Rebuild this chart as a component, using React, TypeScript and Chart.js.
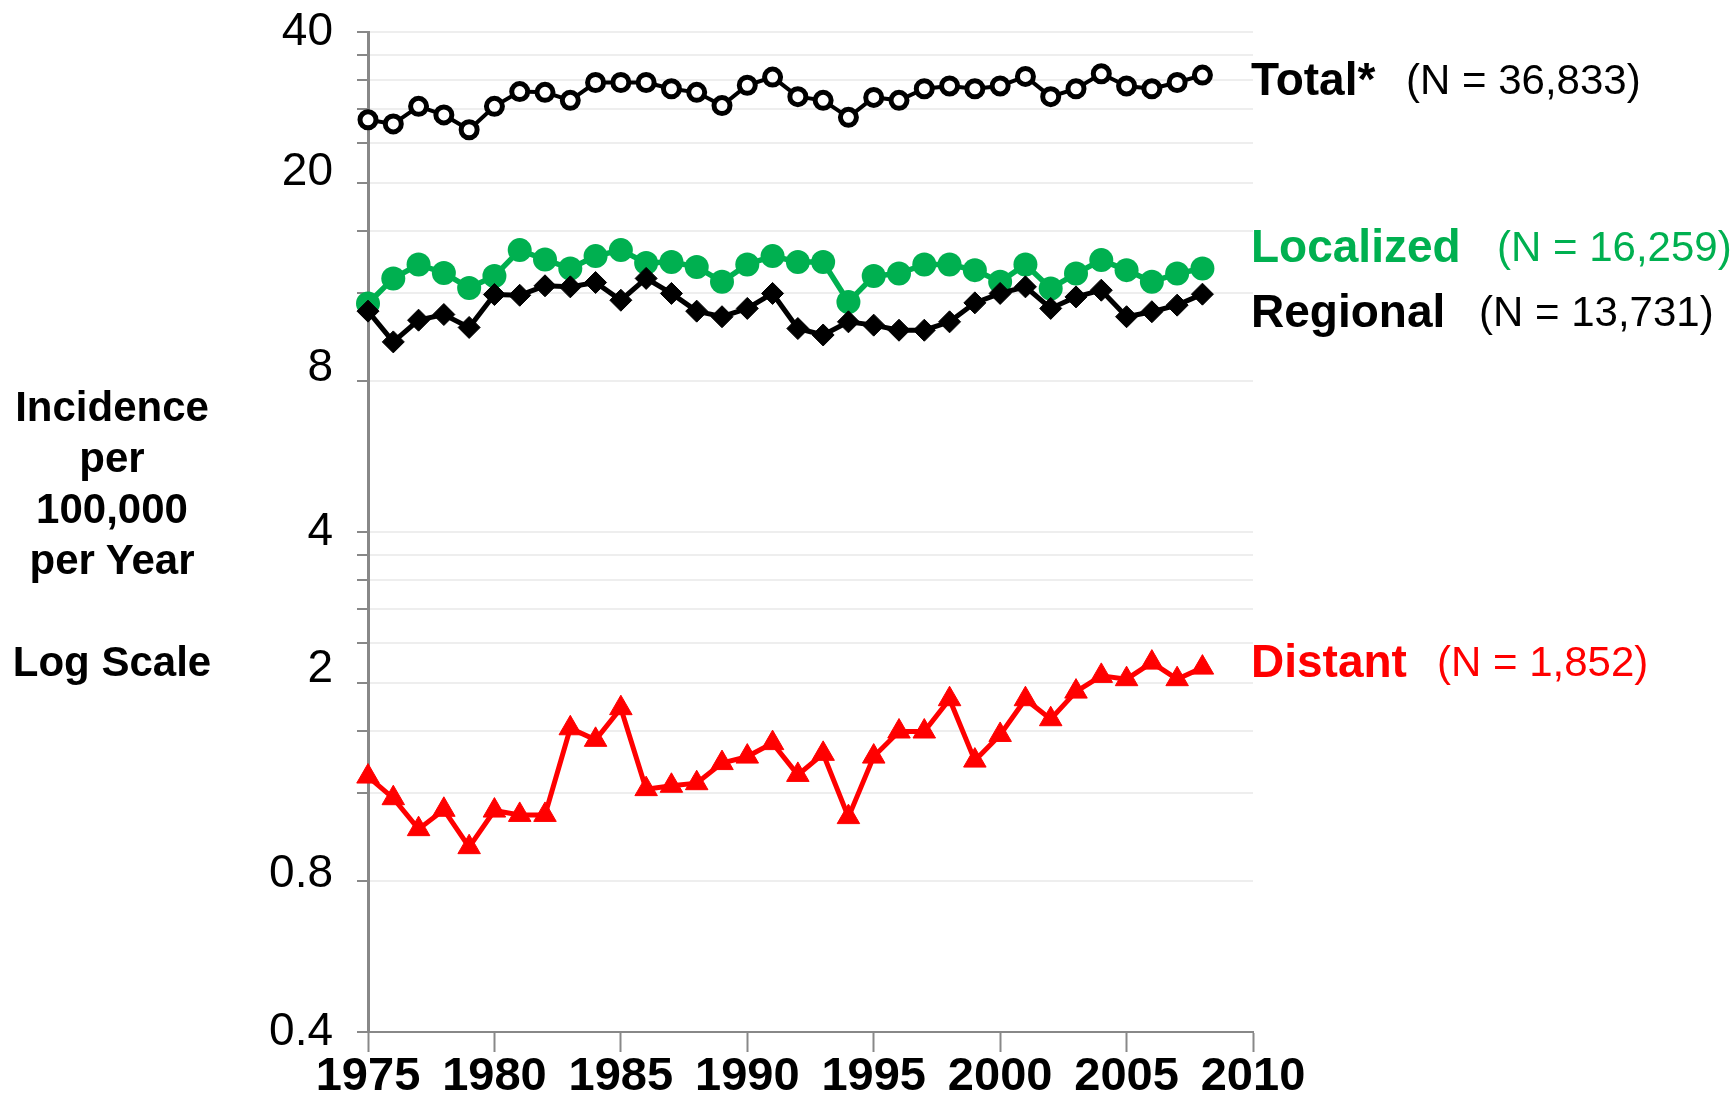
import React, { useEffect, useRef } from 'react';
import { Chart, registerables } from 'chart.js';

Chart.register(...registerables);

const YEARS = [1975, 1976, 1977, 1978, 1979, 1980, 1981, 1982, 1983, 1984, 1985, 1986, 1987, 1988, 1989, 1990, 1991, 1992, 1993, 1994, 1995, 1996, 1997, 1998, 1999, 2000, 2001, 2002, 2003, 2004, 2005, 2006, 2007, 2008];

const TOTAL = [26.7, 26.2, 28.4, 27.3, 25.5, 28.4, 30.4, 30.3, 29.2, 31.7, 31.7, 31.7, 30.8, 30.3, 28.5, 31.3, 32.5, 29.7, 29.2, 27.0, 29.6, 29.2, 30.8, 31.2, 30.8, 31.2, 32.6, 29.7, 30.8, 33.0, 31.2, 30.8, 31.7, 32.8];

const LOCALIZED = [11.46, 12.86, 13.71, 13.19, 12.31, 13.0, 14.65, 14.03, 13.46, 14.25, 14.65, 13.81, 13.87, 13.56, 12.66, 13.71, 14.25, 13.87, 13.87, 11.54, 13.0, 13.15, 13.71, 13.71, 13.36, 12.66, 13.71, 12.28, 13.15, 13.99, 13.36, 12.66, 13.15, 13.46];

const REGIONAL = [11.06, 9.6, 10.61, 10.89, 10.26, 11.94, 11.9, 12.43, 12.37, 12.62, 11.63, 12.86, 12.0, 11.06, 10.78, 11.2, 12.0, 10.21, 9.91, 10.53, 10.37, 10.13, 10.13, 10.53, 11.49, 12.0, 12.37, 11.2, 11.81, 12.18, 10.78, 11.03, 11.37, 11.96];

const DISTANT = [1.297, 1.174, 1.018, 1.113, 0.937, 1.109, 1.087, 1.087, 1.62, 1.536, 1.777, 1.224, 1.243, 1.258, 1.38, 1.422, 1.513, 1.307, 1.44, 1.076, 1.422, 1.596, 1.596, 1.852, 1.396, 1.571, 1.852, 1.689, 1.918, 2.062, 2.031, 2.192, 2.031, 2.142];

const Y_TICKS = [0.4, 0.8, 1.2, 1.6, 2, 2.4, 2.8, 3.2, 3.6, 4, 8, 12, 16, 20, 24, 28, 32, 36, 40];
const Y_TICK_LABELS = [0.4, 0.8, 2, 4, 8, 20, 40];
const X_TICKS = [1975, 1980, 1985, 1990, 1995, 2000, 2005, 2010];

const SERIES_NAMES = ['Total*', 'Localized', 'Regional', 'Distant'];
const SERIES_COUNTS = ['(N = 36,833)', '(N = 16,259)', '(N = 13,731)', '(N = 1,852)'];
const Y_TITLE_LINES = ['Incidence', 'per', '100,000', 'per Year', '', 'Log Scale'];

const FONT = '"Liberation Sans", Arial, sans-serif';
const GREEN = '#00b050';
const RED = '#ff0000';

function pts(values: number[]) {
  return YEARS.map((y, i) => ({ x: y, y: values[i] }));
}

export default function App() {
  const ref = useRef<HTMLCanvasElement | null>(null);

  useEffect(() => {
    if (!ref.current) return;
    const shift: Record<string, number> = { '20': 10, '8': 13, '2': 13, '0.8': 7 };
    const chart = new Chart(ref.current, {
      type: 'line',
      data: {
        datasets: [
          {
            label: SERIES_NAMES[0],
            data: pts(TOTAL),
            borderColor: '#000',
            borderWidth: 4,
            pointStyle: 'circle',
            pointRadius: 8,
            pointBorderWidth: 5,
            pointBackgroundColor: '#fff',
            pointBorderColor: '#000',
            clip: false,
          } as any,
          {
            label: SERIES_NAMES[2],
            data: pts(REGIONAL),
            borderColor: '#000',
            borderWidth: 5,
            pointStyle: 'rectRot',
            pointRadius: 11,
            pointBorderWidth: 1,
            pointBackgroundColor: '#000',
            pointBorderColor: '#000',
            clip: false,
          } as any,
          {
            label: SERIES_NAMES[1],
            data: pts(LOCALIZED),
            borderColor: GREEN,
            borderWidth: 5.5,
            pointStyle: 'circle',
            pointRadius: 12,
            pointBorderWidth: 0,
            pointBackgroundColor: GREEN,
            pointBorderColor: GREEN,
            clip: false,
          } as any,
          {
            label: SERIES_NAMES[3],
            data: pts(DISTANT),
            borderColor: RED,
            borderWidth: 5,
            pointStyle: 'triangle',
            pointRadius: 13,
            pointBorderWidth: 1,
            pointBackgroundColor: RED,
            pointBorderColor: RED,
            clip: false,
          } as any,
        ],
      },
      options: {
        animation: false,
        responsive: false,
        maintainAspectRatio: false,
        devicePixelRatio: 1,
        layout: { autoPadding: false, padding: { left: 0, top: 32, right: 483, bottom: 0 } },
        plugins: { legend: { display: false }, tooltip: { enabled: false } },
        elements: { line: { tension: 0 } },
        scales: {
          x: {
            type: 'linear',
            min: 1975,
            max: 2010,
            afterBuildTicks: (scale: any) => {
              scale.ticks = X_TICKS.map((v) => ({ value: v }));
            },
            afterFit: (scale: any) => {
              scale.height = 66;
            },
            ticks: {
              autoSkip: false,
              maxRotation: 0,
              padding: -3,
              color: '#000',
              font: { family: FONT, size: 47, weight: 'bold' },
              callback: (v: any) => String(v),
            },
            grid: {
              drawOnChartArea: false,
              tickLength: 20,
              tickColor: '#888',
              tickWidth: 2,
              color: '#888',
            },
            border: { color: '#888', width: 2 },
          },
          y: {
            type: 'logarithmic',
            min: 0.4,
            max: 40,
            afterBuildTicks: (scale: any) => {
              scale.ticks = Y_TICKS.map((v) => ({ value: v }));
            },
            afterFit: (scale: any) => {
              scale.width = 368;
            },
            ticks: {
              autoSkip: false,
              padding: 24,
              color: '#000',
              font: (ctx: any) => {
                const v = ctx.tick ? String(ctx.tick.value) : '';
                const s = shift[v] || 0;
                return { family: FONT, size: 46, lineHeight: s ? 2 * s + 'px' : '12px' };
              },
              callback: (value: any) => {
                const v = Number(value);
                if (!Y_TICK_LABELS.includes(v)) return '';
                const lab = String(v);
                return shift[lab] ? [lab, ''] : lab;
              },
            },
            grid: {
              color: '#eeeeee',
              lineWidth: 2,
              tickLength: 11,
              tickColor: '#888',
              tickWidth: 2,
            },
            border: { color: '#888', width: 3 },
          },
        },
      } as any,
    });
    return () => chart.destroy();
  }, []);

  const rows = [
    { name: SERIES_NAMES[0], n: SERIES_COUNTS[0], color: '#000', baseline: 95, nLeft: 1406 },
    { name: SERIES_NAMES[1], n: SERIES_COUNTS[1], color: GREEN, baseline: 262, nLeft: 1497 },
    { name: SERIES_NAMES[2], n: SERIES_COUNTS[2], color: '#000', baseline: 327, nLeft: 1479 },
    { name: SERIES_NAMES[3], n: SERIES_COUNTS[3], color: RED, baseline: 677, nLeft: 1437 },
  ];

  return (
    <div style={{ position: 'absolute', left: 0, top: 0, width: 1736, height: 1098, background: '#fff', fontFamily: FONT }}>
      <canvas ref={ref} width={1736} height={1098} style={{ position: 'absolute', left: 0, top: 0, width: 1736, height: 1098 }} />
      <div style={{ position: 'absolute', left: 0, top: 381, width: 224, textAlign: 'center', fontWeight: 'bold', fontSize: 42, lineHeight: '51px', color: '#000', whiteSpace: 'nowrap' }}>
        {Y_TITLE_LINES.map((t, i) => (
          <div key={i} style={{ height: 51 }}>{t}</div>
        ))}
      </div>
      {rows.map((r, i) => (
        <React.Fragment key={i}>
          <span style={{ position: 'absolute', left: 1251, top: r.baseline - 0.8465 * 46, fontSize: 46, lineHeight: '46px', fontWeight: 'bold', color: r.color, whiteSpace: 'nowrap' }}>{r.name}</span>
          <span style={{ position: 'absolute', left: r.nLeft, top: r.baseline - 0.8465 * 42, fontSize: 42, lineHeight: '42px', color: r.color, whiteSpace: 'nowrap' }}>{r.n}</span>
        </React.Fragment>
      ))}
    </div>
  );
}
